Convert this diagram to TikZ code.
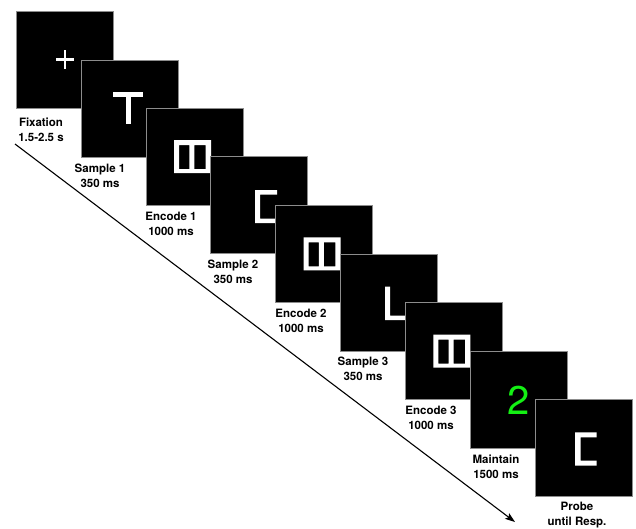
\documentclass[tikz,border=0pt]{standalone}
\usepackage{fontspec}
\setmainfont{TeX Gyre Heros}
\usetikzlibrary{arrows.meta}
\definecolor{limegreen2}{RGB}{20,240,20}
\definecolor{frame}{RGB}{140,140,140}
\tikzset{
  scr/.style={draw=frame, line width=0.8pt, fill=black, minimum size=97pt,
    inner sep=0pt, outer sep=0pt, anchor=north west},
  lbl/.style={font=\fontsize{11.5}{15}\selectfont\bfseries, align=center, inner sep=0pt},
  wht/.style={fill=white},
  timeline/.style={line width=1.1pt, -{Stealth[length=10pt,width=7pt,inset=2pt]}},
}
\begin{document}
\begin{tikzpicture}[x=1pt,y=-1pt]
\useasboundingbox (0,0) rectangle (636,528);

% time arrow
\coordinate (t0) at (15,144);
\coordinate (t1) at (515,522);
\draw[timeline] (t0) -- (t1);

% labels
\node[lbl] (l1) at (41,129.5) {Fixation\\1.5-2.5 s};
\node[lbl] (l2) at (100,175.5) {Sample 1\\350 ms};
\node[lbl] (l3) at (171,223.5) {Encode 1\\1000 ms};
\node[lbl] (l4) at (233,272) {Sample 2\\350 ms};
\node[lbl] (l5) at (301,321) {Encode 2\\1000 ms};
\node[lbl] (l6) at (363,369) {Sample 3\\350 ms};
\node[lbl] (l7) at (431,418) {Encode 3\\1000 ms};
\node[lbl] (l8) at (496,466.5) {Maintain\\1500 ms};
\node[lbl] (l9) at (577,515.5) {Probe\\until Resp.};

% screen 1: fixation cross
\node[scr] (b1) at (16,11) {};
\fill[wht] (55.7,58.3) rectangle (74,60.8);
\fill[wht] (63.7,50) rectangle (66.2,69);

% screen 2: T
\node[scr] (b2) at (81,60) {};
\fill[wht] (113.3,92.3) rectangle (142.7,96.7);
\fill[wht] (125.7,96.7) rectangle (130.7,124.3);

% screen 3: double box
\node[scr] (b3) at (146,108.2) {};
\begin{scope}[shift={(174,140.2)}]
  \fill[wht, even odd rule] (0,0) rectangle (37,33) (5,5) rectangle (15.3,29) (20.3,5) rectangle (31.7,29);
\end{scope}

% screen 4: open bracket
\node[scr] (b4) at (210.7,156.8) {};
\begin{scope}[shift={(255,190)}]
  \fill[wht] (0,0) -- (22,0) -- (22,4.5) -- (5,4.5) -- (5,28.5) -- (22,28.5) -- (22,33) -- (0,33) -- cycle;
\end{scope}

% screen 5: double box
\node[scr] (b5) at (275.6,205.4) {};
\begin{scope}[shift={(303.6,237.4)}]
  \fill[wht, even odd rule] (0,0) rectangle (37,33) (5,5) rectangle (15.3,29) (20.3,5) rectangle (31.7,29);
\end{scope}

% screen 6: L
\node[scr] (b6) at (340.5,254) {};
\begin{scope}[shift={(385,286.7)}]
  \fill[wht] (0,0) -- (5,0) -- (5,28.8) -- (22,28.8) -- (22,33.3) -- (0,33.3) -- cycle;
\end{scope}

% screen 7: double box
\node[scr] (b7) at (405.4,302.6) {};
\begin{scope}[shift={(433.4,334.6)}]
  \fill[wht, even odd rule] (0,0) rectangle (37,33) (5,5) rectangle (15.3,29) (20.3,5) rectangle (31.7,29);
\end{scope}

% screen 8: maintain digit
\node[scr] (b8) at (470.3,351.2) {};
\node[inner sep=0pt, text=limegreen2, font=\fontsize{40}{40}\selectfont] (d8) at (518.7,400.2) {2};

% screen 9: probe
\node[scr] (b9) at (535.2,399.8) {};
\begin{scope}[shift={(575,432.3)}]
  \fill[wht] (0,0) -- (21.7,0) -- (21.7,5) -- (5.7,5) -- (5.7,28.4) -- (21.7,28.4) -- (21.7,33.4) -- (0,33.4) -- cycle;
\end{scope}
\end{tikzpicture}
\end{document}
